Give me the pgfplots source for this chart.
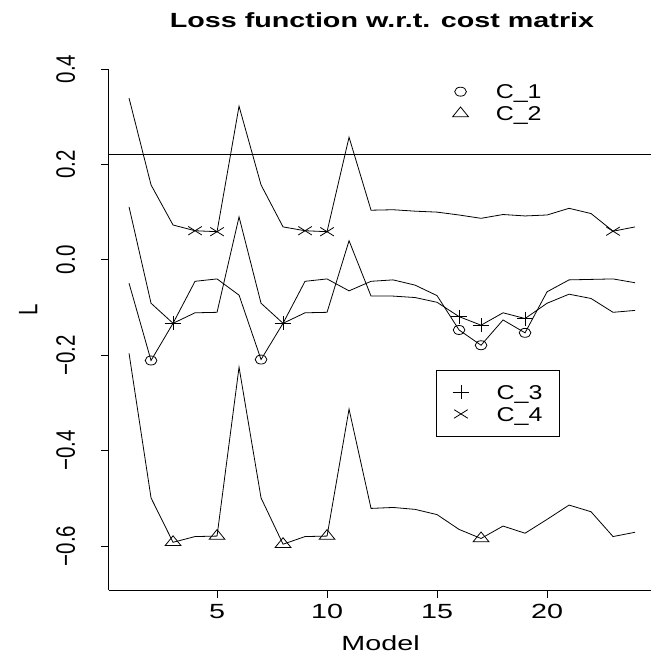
\documentclass[border=0pt]{standalone}
\usepackage{pgfplots}
\pgfplotsset{compat=1.18}
\usepackage{fontspec}
\setmainfont{Liberation Sans}
\newfontfamily\sfh[FakeStretch=1.4]{Liberation Sans}
\newfontfamily\sfl[FakeStretch=1.25]{Liberation Sans}
\newcommand\mainfs{\sfh\fontsize{20.5bp}{24bp}\selectfont}
\newcommand\legfs{\sfl\fontsize{20bp}{24bp}\selectfont}
\newcommand\yl[1]{\scalebox{1}[1.3]{\fontsize{20.5bp}{24bp}\selectfont #1}}

\pgfplotstableread{
x y
1 0.339
2 0.157
3 0.073
4 0.061
5 0.059
6 0.322
7 0.157
8 0.069
9 0.061
10 0.059
11 0.257
12 0.104
13 0.105
14 0.102
15 0.100
16 0.094
17 0.087
18 0.095
19 0.092
20 0.094
21 0.108
22 0.097
23 0.060
24 0.069
}\cfour
\pgfplotstableread{
x y
1 0.111
2 -0.091
3 -0.133
4 -0.111
5 -0.110
6 0.090
7 -0.091
8 -0.133
9 -0.111
10 -0.110
11 0.040
12 -0.076
13 -0.076
14 -0.079
15 -0.089
16 -0.119
17 -0.137
18 -0.111
19 -0.123
20 -0.091
21 -0.072
22 -0.081
23 -0.110
24 -0.106
}\cthree
\pgfplotstableread{
x y
1 -0.049
2 -0.211
3 -0.133
4 -0.045
5 -0.040
6 -0.074
7 -0.209
8 -0.133
9 -0.045
10 -0.040
11 -0.065
12 -0.045
13 -0.042
14 -0.053
15 -0.075
16 -0.147
17 -0.179
18 -0.126
19 -0.153
20 -0.067
21 -0.042
22 -0.041
23 -0.040
24 -0.048
}\cone
\pgfplotstableread{
x y
1 -0.196
2 -0.499
3 -0.592
4 -0.580
5 -0.579
6 -0.225
7 -0.499
8 -0.596
9 -0.580
10 -0.579
11 -0.313
12 -0.521
13 -0.519
14 -0.523
15 -0.534
16 -0.565
17 -0.584
18 -0.558
19 -0.573
20 -0.544
21 -0.514
22 -0.528
23 -0.580
24 -0.571
}\ctwo

\tikzset{
  mko/.style={mark=o, mark size=4.5bp, mark options={xscale=1.3, line width=0.8bp}},
  mktri/.style={mark=triangle, mark size=6.5bp, mark options={xscale=1.4, line width=0.8bp}},
  mkplus/.style={mark=+, mark size=7bp, mark options={xscale=1.2, line width=0.8bp}},
  mkx/.style={mark=x, mark size=6bp, mark options={xscale=1.6, line width=0.8bp}},
}

\pgfplotsset{
  common/.style={
    scale only axis, width=542.2bp, height=521bp,
    xmin=0.08, xmax=24.725, ymin=-0.692, ymax=0.4,
  },
  legimg/.style={
    legend image code/.code={\draw[##1] plot coordinates {(0bp,0bp)};},
    legend style={
      inner sep=0pt, outer sep=0pt, column sep=27.35bp, row sep=7.5bp,
      line width=0.8bp,
      nodes={anchor=west, inner sep=0pt, outer sep=0pt, text height=14.3bp, text depth=0bp, font=\legfs},
    },
  },
}

\begin{document}
\begin{tikzpicture}
\useasboundingbox (-108.8bp,-66bp) rectangle (542.2bp,590bp);
\begin{axis}[
  common,
  axis lines*=left,
  axis line style={-, line width=0.8bp},
  tick align=outside,
  major tick length=7.5bp,
  every tick/.style={black, line width=0.8bp},
  xtick={5,10,15,20},
  xticklabels={5,10,15,20},
  ytick={-0.6,-0.4,-0.2,0,0.2,0.4},
  yticklabels={\yl{−0.6},\yl{−0.4},\yl{−0.2},\yl{0.0},\yl{0.2},\yl{0.4}},
  xticklabel style={font=\mainfs, anchor=base, inner sep=0pt, yshift=-20.5bp},
  yticklabel style={xshift=-26.3bp, rotate=90, anchor=base, inner sep=0pt},
  title={Loss function w.r.t. cost matrix},
  title style={font=\mainfs\bfseries, at={(axis description cs:0.5039,1.0691)}, anchor=base, inner sep=0pt},
  xlabel={Model},
  xlabel style={font=\mainfs, at={(axis description cs:0.5012,-0.1152)}, anchor=base, inner sep=0pt},
  ylabel={\yl{L}},
  ylabel style={at={(axis description cs:-0.1315,0.537)}, rotate=0, anchor=base, inner sep=0pt},
  legimg,
  legend style={draw=none, fill=none, at={(axis description cs:0.6342,0.9702)}, anchor=north west},
  every axis plot/.append style={black, line width=0.8bp},
]
\addlegendimage{only marks, mko}
\addlegendentry{C\_1}
\addlegendimage{only marks, mktri}
\addlegendentry{C\_2}

\addplot[no marks] coordinates {(0.08,0.222) (24.725,0.222)};
\addplot[no marks] table {\cfour};
\addplot[no marks] table {\cthree};
\addplot[no marks] table {\cone};
\addplot[no marks] table {\ctwo};

\addplot[only marks, mkx] coordinates {(4,0.061) (5,0.059) (9,0.061) (10,0.059) (23,0.060)};
\addplot[only marks, mkplus] coordinates {(3,-0.133) (8,-0.133) (16,-0.119) (17,-0.137) (19,-0.123)};
\addplot[only marks, mko] coordinates {(2,-0.211) (7,-0.209) (16,-0.147) (17,-0.179) (19,-0.153)};
\addplot[only marks, mktri] coordinates {(3,-0.592) (5,-0.579) (8,-0.596) (10,-0.579) (17,-0.584)};
\end{axis}
\begin{axis}[
  common,
  hide axis,
  legimg,
  legend style={draw=black, fill=white, line width=0.8bp, inner xsep=16.5bp, inner ysep=15bp,
    at={(axis description cs:0.6035,0.4223)}, anchor=north west},
]
\addlegendimage{only marks, mkplus}
\addlegendentry{C\_3}
\addlegendimage{only marks, mkx}
\addlegendentry{C\_4}
\end{axis}
\end{tikzpicture}
\end{document}
